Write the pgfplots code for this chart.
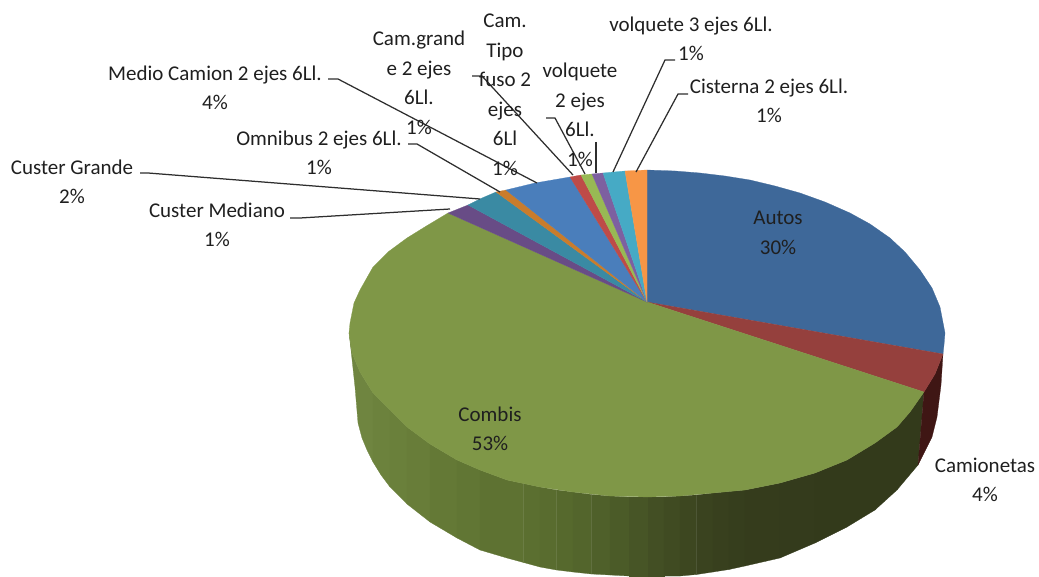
\documentclass[border=0pt]{standalone}
\usepackage{pgfplots}
\pgfplotsset{compat=1.18}
\usepackage{fontspec}
\setmainfont{Carlito}

\definecolor{autos}{HTML}{3E6899}
\definecolor{camta}{HTML}{95403D}
\definecolor{camwall}{HTML}{3F1614}
\definecolor{combi}{HTML}{7F9747}
\definecolor{cmed}{HTML}{684C86}
\definecolor{cgra}{HTML}{3A8AA3}
\definecolor{omni}{HTML}{C97C2C}
\definecolor{medio}{HTML}{4A7EBB}
\definecolor{cgrande}{HTML}{BE4B48}
\definecolor{fuso}{HTML}{98B954}
\definecolor{volqb}{HTML}{7D60A0}
\definecolor{volqc}{HTML}{46AAC5}
\definecolor{cist}{HTML}{F79646}
\definecolor{leader}{HTML}{2E2E2E}
\definecolor{lbl}{HTML}{1F1F1F}

% side wall of Combis, left to right
\definecolor{w01}{HTML}{6F8540}
\definecolor{w02}{HTML}{6C823D}
\definecolor{w03}{HTML}{6A803B}
\definecolor{w04}{HTML}{687D39}
\definecolor{w05}{HTML}{647936}
\definecolor{w06}{HTML}{617634}
\definecolor{w07}{HTML}{5E7232}
\definecolor{w08}{HTML}{5B6F30}
\definecolor{w09}{HTML}{596C2F}
\definecolor{w10}{HTML}{56692D}
\definecolor{w11}{HTML}{53652C}
\definecolor{w12}{HTML}{4F602A}
\definecolor{w13}{HTML}{4B5B28}
\definecolor{w14}{HTML}{475526}
\definecolor{w15}{HTML}{434F24}
\definecolor{w16}{HTML}{404B22}
\definecolor{w17}{HTML}{3D4720}
\definecolor{w18}{HTML}{3A431F}
\definecolor{w19}{HTML}{38401E}
\definecolor{w20}{HTML}{363E1D}
\definecolor{w21}{HTML}{353C1C}
\definecolor{w22}{HTML}{343B1C}
\definecolor{w23}{HTML}{333A1B}

\tikzset{
  face/.style={fill=#1,draw=#1,line width=.25pt},
  lead/.style={draw=leader,line width=1.25pt},
  lab/.style={align=center,text=lbl,font=\fontsize{21}{29.5}\selectfont,inner sep=0pt},
}

\begin{document}
\begin{tikzpicture}
\begin{axis}[
    width=1039pt, height=576pt, scale only axis,
    xmin=0, xmax=1039, ymin=0, ymax=576,
    y dir=reverse,
    hide axis,
    clip=false,
]
\path (axis cs:0,0) rectangle (axis cs:1039,576);

% walls
\addplot[face=w01] coordinates {(349,333)(352,353)(360,372)(373,393)(373,462)(367,450)(362,438)(358,423)(355,387)(351,350)} --cycle;
\addplot[face=w02] coordinates {(373,393)(388,408)(390,410)(390,487)(381,475)(373,462)} --cycle;
\addplot[face=w03] coordinates {(390,410)(407,427)(407,504)(390,487)} --cycle;
\addplot[face=w04] coordinates {(407,427)(430,444)(430,522)(407,504)} --cycle;
\addplot[face=w05] coordinates {(430,444)(457,460)(457,538)(430,522)} --cycle;
\addplot[face=w06] coordinates {(457,460)(480,470)(480,550)(457,538)} --cycle;
\addplot[face=w07] coordinates {(480,470)(507,480)(507,558)(480,550)} --cycle;
\addplot[face=w07] coordinates {(507,480)(523.5,483.5)(523.5,562.5)(507,558)} --cycle;
\addplot[face=w08] coordinates {(523.5,483.5)(540,487)(540,567)(523.5,562.5)} --cycle;
\addplot[face=w09] coordinates {(540,487)(556.5,490)(556.5,570)(540,567)} --cycle;
\addplot[face=w10] coordinates {(556.5,490)(573,492)(573,572)(556.5,570)} --cycle;
\addplot[face=w11] coordinates {(573,492)(591.5,494.5)(591.5,574)(573,572)} --cycle;
\addplot[face=w12] coordinates {(591.5,494.5)(610,496)(610,575)(591.5,574)} --cycle;
\addplot[face=w13] coordinates {(610,496)(629,497)(629,576)(610,575)} --cycle;
\addplot[face=w14] coordinates {(629,497)(648,497)(648,576)(629,576)} --cycle;
\addplot[face=w15] coordinates {(648,497)(664,497)(664,576)(648,576)} --cycle;
\addplot[face=w16] coordinates {(664,497)(680,496)(680,576)(664,576)} --cycle;
\addplot[face=w17] coordinates {(680,496)(696.5,495)(696.5,574.5)(680,576)} --cycle;
\addplot[face=w18] coordinates {(696.5,495)(713,493)(713,572)(696.5,574.5)} --cycle;
\addplot[face=w19] coordinates {(713,493)(729,491.5)(729,569.5)(713,572)} --cycle;
\addplot[face=w20] coordinates {(729,491.5)(745,490)(745,566)(729,569.5)} --cycle;
\addplot[face=w21] coordinates {(745,490)(780,483)(780,558)(745,566)} --cycle;
\addplot[face=w22] coordinates {(780,483)(815,473)(815,543)(780,558)} --cycle;
\addplot[face=w23] coordinates {(815,473)(847,460)(847,527)(815,543)} --cycle;
\addplot[face=w23] coordinates {(847,460)(875,443)(875,510)(847,527)} --cycle;
\addplot[face=w23] coordinates {(875,443)(897,427)(897,490)(875,510)} --cycle;
\addplot[face=w23] coordinates {(897,427)(910,412)(924,392)(918,465)(897,490)} --cycle;
\addplot[face=camwall] coordinates {(924,392)(935,374)(943,354)(941,385)(937,417)(932,437)(918,465)} --cycle;

% top faces
\addplot[face=autos] coordinates {(647,302)(647,170)(675,171)(700,173)(725,176)(750,180)(775,186)(800,193)(825,202)(850,213)(870,224)(890,238)(905,252)(920,270)(932,288)(940,307)(945,333)(944,345)(943,354)} --cycle;
\addplot[face=camta] coordinates {(647,302)(943,354)(935,374)(924,392)} --cycle;
\addplot[face=combi] coordinates {(647,302)(924,392)(910,412)(897,427)(875,443)(847,460)(815,473)(780,483)(745,490)(713,493)(680,496)(648,497)(610,496)(573,492)(540,487)(507,480)(480,470)(457,460)(430,444)(407,427)(388,408)(373,393)(360,372)(352,353)(349,333)(350,323)(354,303)(360,290)(373,267)(388,252)(407,238)(428,225)(448,213)} --cycle;
\addplot[face=cmed] coordinates {(647,302)(448,213)(468,205)} --cycle;
\addplot[face=cgra] coordinates {(647,302)(468,205)(482,198)(496,192)} --cycle;
\addplot[face=omni] coordinates {(647,302)(496,192)(506,190)} --cycle;
\addplot[face=medio] coordinates {(647,302)(506,190)(535,183)(570,177)} --cycle;
\addplot[face=cgrande] coordinates {(647,302)(570,177)(581,175)} --cycle;
\addplot[face=fuso] coordinates {(647,302)(581,175)(592,174)} --cycle;
\addplot[face=volqb] coordinates {(647,302)(592,174)(603,173)} --cycle;
\addplot[face=volqc] coordinates {(647,302)(603,173)(625,171)} --cycle;
\addplot[face=cist] coordinates {(647,302)(625,171)(647,170)} --cycle;

% leader lines
\addplot[lead] coordinates {(328,79)(338,79)(537,183)};
\addplot[lead] coordinates {(408,144)(417,144)(500,192)};
\addplot[lead] coordinates {(140,173)(148,173)(480,199)};
\addplot[lead] coordinates {(290,218)(300,218)(450,209)};
\addplot[lead] coordinates {(472,76)(482,76)(573,175)};
\addplot[lead] coordinates {(546,118)(555,118)(585,174)};
\addplot[lead] coordinates {(596,142)(596,173)};
\addplot[lead] coordinates {(675,60)(665,60)(613,172)};
\addplot[lead] coordinates {(688,94)(678,94)(636,172)};

% labels
\node[lab] at (axis cs:778,233) {Autos\\30\%};
\node[lab] at (axis cs:985,480) {Camionetas\\4\%};
\node[lab] at (axis cs:490,429) {Combis\\53\%};
\node[lab] at (axis cs:215,88) {Medio Camion 2 ejes 6Ll.\\4\%};
\node[lab] at (axis cs:319,153) {Omnibus 2 ejes 6Ll.\\1\%};
\node[lab] at (axis cs:72,182) {Custer Grande\\2\%};
\node[lab] at (axis cs:217,225) {Custer Mediano\\1\%};
\node[lab] at (axis cs:419,83) {Cam.grand\\e 2 ejes\\6Ll.\\1\%};
\node[lab] at (axis cs:505,95) {Cam.\\Tipo\\fuso 2\\ejes\\6Ll\\1\%};
\node[lab] at (axis cs:580,115) {volquete\\2 ejes\\6Ll.\\1\%};
\node[lab] at (axis cs:691,39) {volquete 3 ejes 6Ll.\\1\%};
\node[lab] at (axis cs:769,101) {Cisterna 2 ejes 6Ll.\\1\%};
\end{axis}
\end{tikzpicture}
\end{document}
